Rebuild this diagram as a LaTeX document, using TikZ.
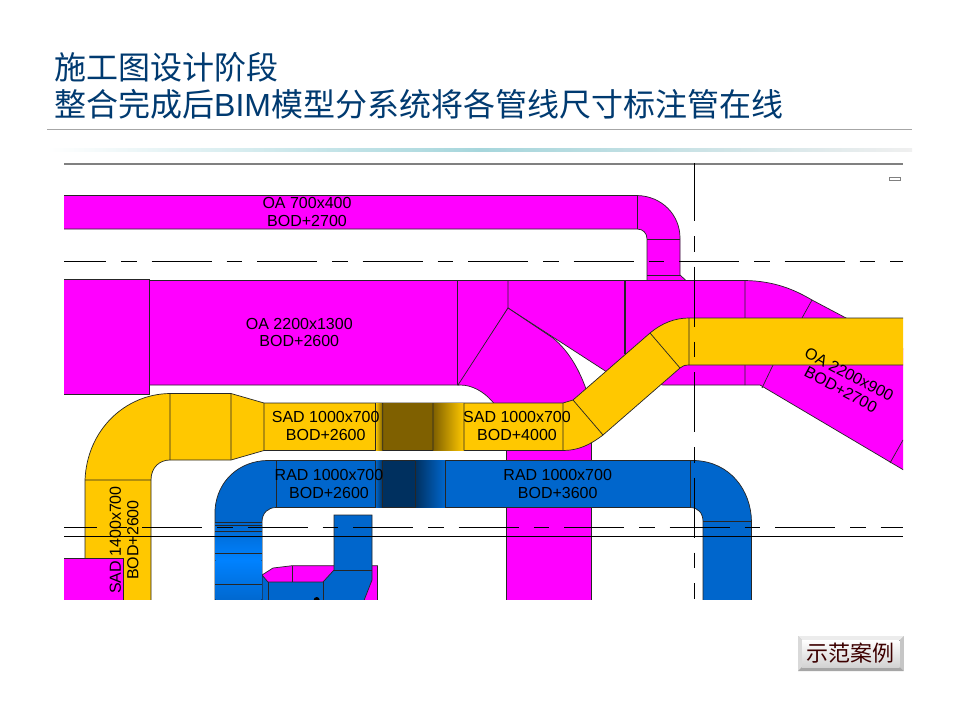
\documentclass[tikz,border=0pt]{standalone}
\usepackage{fontspec}
\setmainfont{Liberation Sans}
\newfontfamily\cjk{Noto Sans CJK SC}
\usetikzlibrary{positioning}
\definecolor{oacol}{HTML}{FF00FF}
\definecolor{sadcol}{HTML}{FFC800}
\definecolor{sadlow}{HTML}{7F6000}
\definecolor{radcol}{HTML}{0066CC}
\definecolor{radlow}{HTML}{00305F}
\definecolor{radlight}{HTML}{0082FF}
\definecolor{titlecol}{HTML}{003A70}
\definecolor{rulecol}{HTML}{A6D6DC}
\tikzset{
	ductline/.style={draw=black!85,line width=0.7pt},
	oaduct/.style={ductline,fill=oacol},
	sadduct/.style={ductline,fill=sadcol},
	radduct/.style={ductline,fill=radcol},
	axisline/.style={black,line width=0.7pt},
	axisdash/.style={axisline,dash pattern=on 60pt off 15pt on 15.5pt off 15pt},
	ductlabel/.style={font=\fontsize{16}{17.5}\selectfont,align=center,inner sep=0pt,text=black},
	titletext/.style={font=\fontsize{32}{32}\selectfont,text=titlecol,anchor=base west,inner sep=0pt}
}
\begin{document}
\begin{tikzpicture}[x=1pt,y=-1pt]
	\useasboundingbox (0,0) rectangle (960,720);
	\fill[white] (0,0) rectangle (960,720);
	\node[titletext] (titleone) at (54,79) {\cjk 施工图设计阶段};
	\node[titletext] (titletwo) at (54,116) {\cjk 整合完成后{\rmfamily BIM}模型分系统将各管线尺寸标注管在线};
	\draw[gray!70,line width=0.8pt] (47,129.5) -- (912,129.5);
	\fill[left color=white,right color=rulecol] (47,148.5) rectangle (480,151);
	\fill[left color=rulecol,right color=gray!12] (480,148.5) rectangle (912,151);
	\fill[gray] (64,162.5) rectangle (903,164.5);
	\draw[gray,line width=0.8pt] (889.5,177) rectangle (900.5,180.5);

	\begin{scope}
		\clip (64,163) rectangle (903,599);
		% OA ducts
		\draw[oaduct] (60,195.5) -- (637,195.5) .. controls (662,196) and (680,215) .. (680,238) -- (680,275) -- (686,280.5) -- (647,280.5) -- (647,239) .. controls (647,233) and (643,229) .. (637,229) -- (60,229) -- cycle;
		\draw[ductline] (637,195.5) -- (637,229) (647,239) -- (680,239) (647,275) -- (680,275);
		\draw[oaduct] (60,279.5) rectangle (149.5,394.5);
		\draw[oaduct] (149.5,280.5) -- (745,280.5) .. controls (775,281) and (795,290) .. (812,300) -- (846,318) -- (907,351) -- (907,472) -- (760,385) -- (663,385) -- (610,374) -- (508,308) -- (459,385) -- (149.5,385) -- cycle;
		\draw[oaduct] (458,385) -- (508,308) -- (553,338) .. controls (570,352) and (580,372) .. (586,389) -- (591.5,420) -- (591.5,603) -- (506.5,603) -- (506.5,430) .. controls (504,412) and (485,385) .. (460,385) -- cycle;
		\draw[ductline,line width=1.4pt] (149.5,279.5) -- (149.5,394.5) (457.5,280.5) -- (457.5,385) (625,280.5) -- (625,354);
		\draw[ductline] (508,280.5) -- (508,308) (745,280.5) -- (745,385) (812,300) -- (802,318) (773,365) -- (762,388) (903,440) -- (890,463);
		% SAD duct
		\draw[sadduct] (85,603) -- (85,480) .. controls (87,430) and (125,394) .. (170,393.5) -- (231,393.5) -- (264,403) -- (563,403) -- (573,400) -- (650,333) .. controls (662,323) and (675,318) .. (689,318) -- (907,318) -- (907,365) -- (689,365) .. controls (685,365) and (682,366) .. (680,368) -- (603,435) .. controls (590,445) and (578,450.5) .. (563,450.5) -- (264,450.5) -- (231,460) -- (170,460) .. controls (160,460) and (151,467) .. (151,480) -- (151,603) -- cycle;
		\fill[left color=sadcol,right color=sadlow] (375.5,403.4) rectangle (382.7,450.1);
		\fill[sadlow] (382.7,403.4) rectangle (433,450.1);
		\fill[left color=sadlow,right color=sadcol] (433,403.4) rectangle (464,450.1);
		\draw[ductline] (85,480) -- (151,480) (170,393.5) -- (170,460) (231,393.5) -- (231,460) (264,403) -- (264,450.5) (375.5,403) -- (375.5,450.5) (382.7,403) -- (382.7,450.5) (433,403) -- (433,450.5) (464,403) -- (464,450.5) (563,403) -- (563,450.5) (573,400) -- (603,435) (650,333) -- (680,368) (689,318) -- (689,365);
		\draw[oaduct] (60,558) rectangle (123.5,603);
		% RAD ducts
		\draw[oaduct] (262,575) -- (273,568) -- (292,565.7) -- (377.5,565.7) -- (377.5,603) -- (262,603) -- cycle;
		\draw[ductline] (292,565.7) -- (292,582);
		\draw[radduct] (262,575) -- (268,582) -- (323,582) -- (334,570) -- (334,515) -- (372,515) -- (372,580) -- (363,603) -- (262,603) -- cycle;
		\draw[ductline] (334,570) -- (372,570) (268,582) -- (268,603) (323,582) -- (323,603);
		\fill[black] (316.7,600) circle (3);
		\draw[radduct] (215,603) -- (215,510) .. controls (217,480) and (240,461) .. (267,460.5) -- (695,460.5) .. controls (730,462) and (751,490) .. (751.5,521.5) -- (751.5,603) -- (703,603) -- (703,521.5) .. controls (703,513) and (698,507.5) .. (690,507.5) -- (276,507.5) .. controls (268,507.5) and (262,513) .. (262,522) -- (262,603) -- cycle;
		\fill[top color=radcol,bottom color=radlight] (215.4,522) rectangle (261.6,560);
		\fill[top color=radlight,bottom color=radcol] (215.4,560) rectangle (261.6,603);
		\fill[left color=radcol,right color=radlow] (375.5,460.9) rectangle (382.7,507.1);
		\fill[radlow] (382.7,460.9) rectangle (415,507.1);
		\fill[left color=radlow,right color=radcol] (415,460.9) rectangle (445,507.1);
		\draw[ductline] (215,522) -- (262,522) (215,525) -- (262,525) (215,531.5) -- (262,531.5) (215,553.5) -- (262,553.5) (215,584) -- (262,584);
		\draw[ductline] (276,460.5) -- (276,507.5) (375.5,460.5) -- (375.5,507.5) (382.7,460.5) -- (382.7,507.5) (415,460.5) -- (415,507.5) (445,460.5) -- (445,507.5) (690,460.5) -- (690,507.5) (703,521.5) -- (751.5,521.5);
		% axis lines
		\draw[axisdash,dash phase=18pt] (64,261) -- (903,261);
		\draw[axisdash,dash phase=27.3pt] (64,527) -- (903,527);
		\draw[axisline] (64,536) -- (903,536);
		\draw[axisdash,dash phase=2pt] (694.6,163) -- (694.6,599);
	\end{scope}

	\node[ductlabel] (oatop) at (307,212) {OA 700x400\\BOD+2700};
	\node[ductlabel] (oamain) at (299.3,332.5) {OA 2200x1300\\BOD+2600};
	\node[ductlabel,rotate=-28] (oaright) at (845,382) {OA 2200x900\\BOD+2700};
	\node[ductlabel] (sadleft) at (325.7,426) {SAD 1000x700\\BOD+2600};
	\node[ductlabel] (sadright) at (517,426) {SAD 1000x700\\BOD+4000};
	\node[ductlabel] (radleft) at (329,484) {RAD 1000x700\\BOD+2600};
	\node[ductlabel] (radright) at (557.7,484) {RAD 1000x700\\BOD+3600};
	\node[ductlabel,rotate=90] (sadriser) at (124,540) {SAD 1400x700\\BOD+2600};

	% button
	\fill[gray!45] (798,636) rectangle (903.5,671);
	\fill[gray!15] (798,636) -- (903.5,636) -- (899.5,640) -- (802,640) -- cycle;
	\fill[gray!30] (798,636) -- (802,640) -- (802,667) -- (798,671) -- cycle;
	\fill[gray!70] (798,671) -- (802,667) -- (899.5,667) -- (903.5,671) -- cycle;
	\fill[top color=white,bottom color=gray!35] (802,640) rectangle (899.5,667);
	\node[font=\fontsize{22}{22}\selectfont\cjk,text=black!70!red!80!black,inner sep=0pt] (buttontext) at (850.5,653.5) {示范案例};
\end{tikzpicture}
\end{document}
